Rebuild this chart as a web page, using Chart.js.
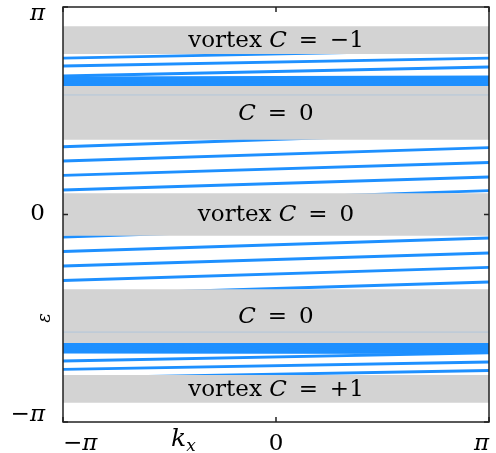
<!DOCTYPE html>
<html lang="en">
<head>
<meta charset="UTF-8">
<title>Spectral flow</title>
<script src="https://cdn.jsdelivr.net/npm/chart.js"></script>
<style>
  body { margin: 0; background: #fff; }
  #wrap { width: 496px; height: 453px; }
</style>
</head>
<body>
<div id="wrap"><canvas id="flowChart" width="496" height="453"></canvas></div>
<script>
const PI = Math.PI;

// gray gap regions: lower and upper edge in epsilon
const bandLow  = [2.43, 1.13, -0.32, -1.945, -2.85];
const bandHigh = [2.85, 1.945, 0.32, -1.13, -2.43];
const bandPrefix = ['vortex ', '', 'vortex ', '', 'vortex '];
const bandChern  = ['\u22121', '0', '0', '0', '+1'];

// blue levels: epsilon at kx = -pi and at kx = +pi
const levelLeft = [
  2.369, 2.248, 2.097, 2.067, 2.036, 2.006, 1.976, 1.955,
  1.026, 0.810, 0.593, 0.371, 0.151,
  -0.341, -0.560, -0.780, -0.999, -1.219,
  -1.940, -1.965, -1.991, -2.021, -2.052, -2.082, -2.218, -2.344, -2.475
];
const levelRight = [
  2.491, 2.369, 2.233, 2.082, 2.052, 2.022, 1.991, 1.960,
  1.249, 1.014, 0.787, 0.568, 0.360,
  -0.129, -0.356, -0.583, -0.802, -1.022,
  -1.950, -1.976, -2.006, -2.036, -2.067, -2.089, -2.095, -2.233, -2.362
];

// faint levels showing through the gray
const faintLeft  = [1.81, -1.78];
const faintRight = [1.81, -1.78];

const xTickValues = [-PI, 0, PI];
const xTickLabels = ['\u2212\u03c0', '0', '\u03c0'];
const yTickValues = [-PI, 0, PI];
const yTickLabels = [['\u2212\u03c0', ''], '0', ['', '\u03c0']];

const SERIF = '"DejaVu Serif", serif';
const BLUE = 'rgb(30,144,255)';
const GRAY = 'rgb(211,211,211)';

const datasets = [];
bandLow.forEach((lo, i) => {
  datasets.push({
    data: [{x: -PI, y: bandHigh[i]}, {x: PI, y: bandHigh[i]}],
    fill: {target: {value: lo}},
    backgroundColor: GRAY,
    borderWidth: 0,
    pointRadius: 0,
    order: 1
  });
});
levelLeft.forEach((v, i) => {
  datasets.push({
    data: [{x: -PI, y: v}, {x: PI, y: levelRight[i]}],
    borderColor: BLUE,
    borderWidth: 2.8,
    pointRadius: 0,
    fill: false,
    order: 2
  });
});
faintLeft.forEach((v, i) => {
  datasets.push({
    data: [{x: -PI, y: v}, {x: PI, y: faintRight[i]}],
    borderColor: 'rgba(30,144,255,0.18)',
    borderWidth: 1,
    pointRadius: 0,
    fill: false,
    order: 0
  });
});

const framePlugin = {
  id: 'frame',
  afterDatasetsDraw(chart) {
    const {ctx, chartArea: a, scales: {x, y}} = chart;
    ctx.save();

    // labels in the gaps
    ctx.fillStyle = '#000';
    ctx.textBaseline = 'middle';
    const cx = x.getPixelForValue(0);
    bandLow.forEach((lo, i) => {
      const cy = y.getPixelForValue((lo + bandHigh[i]) / 2) + 1;
      const pre = bandPrefix[i];
      const post = ' \u2009=\u2009 ' + bandChern[i];
      ctx.font = '23px ' + SERIF;
      const wPre = ctx.measureText(pre).width;
      const wPost = ctx.measureText(post).width;
      ctx.font = 'italic 23px ' + SERIF;
      const wC = ctx.measureText('C').width;
      let sx = cx - (wPre + wC + wPost) / 2;
      ctx.textAlign = 'left';
      ctx.font = '23px ' + SERIF;
      ctx.fillText(pre, sx, cy);
      sx += wPre;
      ctx.font = 'italic 23px ' + SERIF;
      ctx.fillText('C', sx, cy);
      sx += wC;
      ctx.font = '23px ' + SERIF;
      ctx.fillText(post, sx, cy);
    });

    // frame
    ctx.strokeStyle = '#222';
    ctx.lineWidth = 1.5;
    ctx.strokeRect(a.left, a.top, a.right - a.left, a.bottom - a.top);

    // inward tick marks
    ctx.beginPath();
    x.ticks.forEach(t => {
      const px = x.getPixelForValue(t.value);
      ctx.moveTo(px, a.bottom); ctx.lineTo(px, a.bottom - 5);
      ctx.moveTo(px, a.top); ctx.lineTo(px, a.top + 5);
    });
    y.ticks.forEach(t => {
      const py = y.getPixelForValue(t.value);
      ctx.moveTo(a.left, py); ctx.lineTo(a.left + 5, py);
      ctx.moveTo(a.right, py); ctx.lineTo(a.right - 5, py);
    });
    ctx.stroke();

    // axis titles
    ctx.textBaseline = 'alphabetic';
    ctx.textAlign = 'left';
    ctx.font = 'italic 25px ' + SERIF;
    const kx0 = a.left + 108, kyb = a.bottom + 24;
    ctx.fillText('k', kx0, kyb);
    const wk = ctx.measureText('k').width;
    ctx.font = 'italic 17px ' + SERIF;
    ctx.fillText('x', kx0 + wk, kyb + 5);

    ctx.save();
    ctx.translate(a.left - 18, a.top + 311);
    ctx.rotate(-PI / 2);
    ctx.textAlign = 'center';
    ctx.textBaseline = 'middle';
    ctx.font = 'italic 18px ' + SERIF;
    ctx.fillText('\u03b5', 0, 0);
    ctx.restore();

    ctx.restore();
  }
};

// pi labels in italic, like math text
const tickFont = ctx => ({
  family: SERIF,
  size: 23,
  style: ctx.index === 1 ? 'normal' : 'italic'
});

new Chart(document.getElementById('flowChart'), {
  type: 'line',
  data: {datasets: datasets},
  options: {
    responsive: false,
    animation: false,
    events: [],
    layout: {padding: {top: 7, right: 7, left: 0, bottom: 0}},
    plugins: {legend: {display: false}, tooltip: {enabled: false}},
    scales: {
      x: {
        type: 'linear',
        min: -PI,
        max: PI,
        afterBuildTicks: s => { s.ticks = xTickValues.map(v => ({value: v})); },
        afterFit: s => { s.height = 31; s.paddingLeft = 0; s.paddingRight = 0; },
        grid: {display: false},
        border: {display: false},
        ticks: {
          align: 'inner',
          maxRotation: 0,
          padding: 0,
          color: '#000',
          font: tickFont,
          callback: (v, i) => xTickLabels[i]
        }
      },
      y: {
        type: 'linear',
        min: -PI,
        max: PI,
        afterBuildTicks: s => { s.ticks = yTickValues.map(v => ({value: v})); },
        afterFit: s => { s.width = 63; s.paddingTop = 0; s.paddingBottom = 0; },
        grid: {display: false},
        border: {display: false},
        ticks: {
          padding: 10,
          color: '#000',
          font: ctx => Object.assign(tickFont(ctx), {lineHeight: ctx.index === 1 ? 1.2 : '14px'}),
          callback: (v, i) => yTickLabels[i]
        }
      }
    }
  },
  plugins: [framePlugin]
});
</script>
</body>
</html>
